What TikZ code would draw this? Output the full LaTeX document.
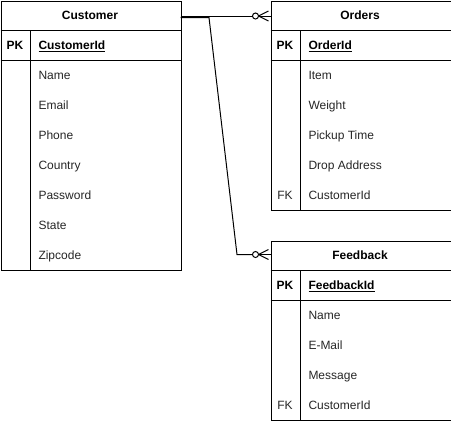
\documentclass[tikz,border=0pt]{standalone}
\usepackage{fontspec}
\setmainfont{Liberation Sans}
\begin{document}
\begin{tikzpicture}[x=1pt,y=-1pt,line width=1pt,
  tbl/.style={draw,rectangle,inner sep=0pt,minimum width=180pt,anchor=north west},
  txt/.style={inner sep=0pt,text height=8.6pt,text depth=0pt},
  hdrtext/.style={txt,font=\fontsize{12}{14}\selectfont\bfseries},
  fld/.style={txt,font=\fontsize{12}{14}\selectfont,anchor=west,text=black!85},
  pkfld/.style={txt,font=\fontsize{12}{14}\selectfont\bfseries,anchor=west},
  keytext/.style={txt,font=\fontsize{12}{14}\selectfont,text=black!85},
  keybold/.style={txt,font=\fontsize{12}{14}\selectfont\bfseries},
  rel/.style={line width=1pt}]
\useasboundingbox (0,0) rectangle (451,421);
% ---------- Customer ----------
\node[tbl,minimum height=269pt] (cust) at (0.5,0.5) {};
\draw (0.5,30.5) -- (180.5,30.5) (0.5,60.5) -- (180.5,60.5) (30.5,30.5) -- (30.5,269.5);
\node[hdrtext] (custh) at (90,15) {Customer};
\node[keybold] (custpk) at (15,45) {PK};
\node[pkfld] (custid) at (38,45) {\underline{CustomerId}};
\node[fld] (c1) at (38,75) {Name};
\node[fld] (c2) at (38,105) {Email};
\node[fld] (c3) at (38,135) {Phone};
\node[fld] (c4) at (38,165) {Country};
\node[fld] (c5) at (38,195) {Password};
\node[fld] (c6) at (38,225) {State};
\node[fld] (c7) at (38,255) {Zipcode};
% ---------- Orders ----------
\node[tbl,minimum height=209pt] (ord) at (270.5,0.5) {};
\draw (270.5,30.5) -- (450.5,30.5) (270.5,60.5) -- (450.5,60.5) (300.5,30.5) -- (300.5,209.5);
\node[hdrtext] (ordh) at (360,15) {Orders};
\node[keybold] (ordpk) at (285,45) {PK};
\node[pkfld] (ordid) at (308,45) {\underline{OrderId}};
\node[fld] (o1) at (308,75) {Item};
\node[fld] (o2) at (308,105) {Weight};
\node[fld] (o3) at (308,135) {Pickup Time};
\node[fld] (o4) at (308,165) {Drop Address};
\node[keytext] (ordfk) at (285,195) {FK};
\node[fld] (o5) at (308,195) {CustomerId};
% ---------- Feedback ----------
\node[tbl,minimum height=179pt] (fb) at (270.5,240.5) {};
\draw (270.5,270.5) -- (450.5,270.5) (270.5,300.5) -- (450.5,300.5) (300.5,270.5) -- (300.5,419.5);
\node[hdrtext] (fbh) at (360,255) {Feedback};
\node[keybold] (fbpk) at (285,285) {PK};
\node[pkfld] (fbid) at (308,285) {\underline{FeedbackId}};
\node[fld] (f1) at (308,315) {Name};
\node[fld] (f2) at (308,345) {E-Mail};
\node[fld] (f3) at (308,375) {Message};
\node[keytext] (fbfk) at (285,405) {FK};
\node[fld] (f4) at (308,405) {CustomerId};
% ---------- connectors ----------
\coordinate (a1) at (180.5,16);
\coordinate (a2) at (252.5,16);
\coordinate (b0) at (180.5,17.5);
\coordinate (b1) at (209,17.5);
\coordinate (b2) at (237,254.5);
\coordinate (b3) at (252.5,254.5);
\draw[rel] (a1) -- (a2);
\draw[rel] (b0) -- (b1) -- (b2) -- (b3);
% zero-or-many ends
\foreach \p/\t in {a2/ord, b3/fb}{
  \draw[rel] ([xshift=3pt]\p) circle (3pt);
  \draw[rel] ([xshift=6pt]\p) -- ([xshift=18pt]\p);
  \draw[rel] ([xshift=6pt]\p) -- ([xshift=16pt,yshift=-5pt]\p);
  \draw[rel] ([xshift=6pt]\p) -- ([xshift=16pt,yshift=5pt]\p);
}
\end{tikzpicture}
\end{document}
